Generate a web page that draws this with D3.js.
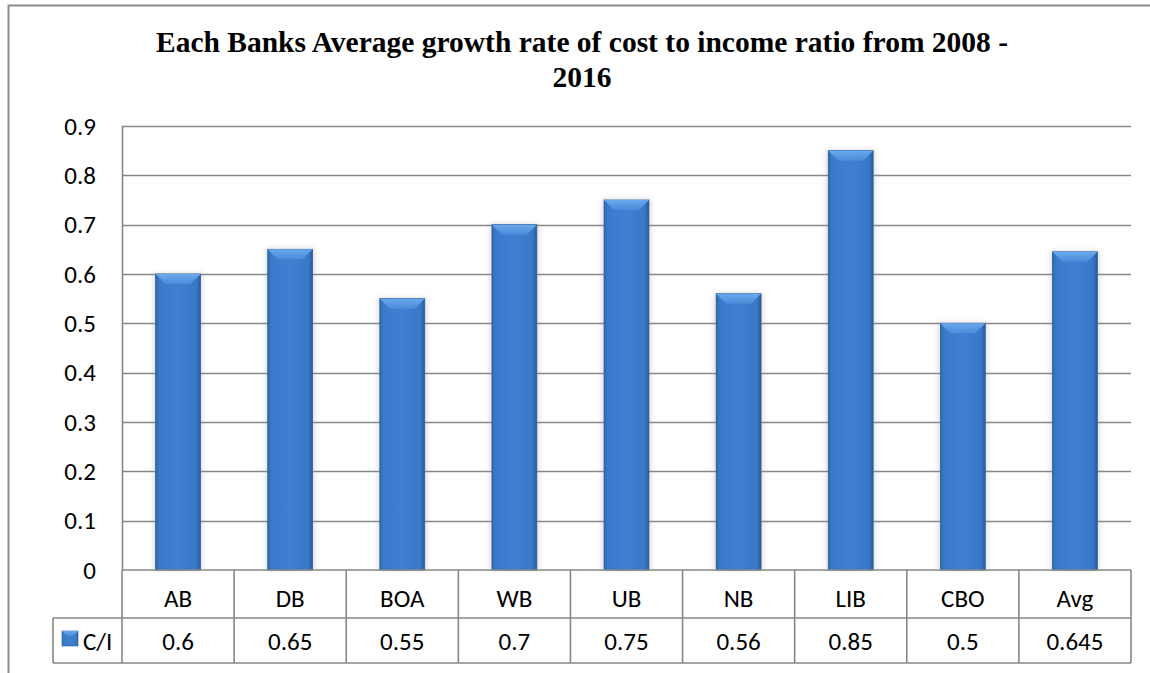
<!DOCTYPE html>
<html>
<head>
<meta charset="utf-8">
<script src="https://cdn.jsdelivr.net/npm/d3@7"></script>
<style>
  html, body { margin: 0; padding: 0; background: #fff; }
  svg { display: block; }
</style>
</head>
<body>
<svg id="chart" width="1150" height="673"></svg>
<script>
// Bank codes along the category axis
const banks = ["AB", "DB", "BOA", "WB", "UB", "NB", "LIB", "CBO", "Avg"];
// Average cost-to-income ratio per bank
const costIncome = [0.6, 0.65, 0.55, 0.7, 0.75, 0.56, 0.85, 0.5, 0.645];
// Printed form of each value in the data table
const costIncomeLabels = ["0.6", "0.65", "0.55", "0.7", "0.75", "0.56", "0.85", "0.5", "0.645"];
const seriesName = "C/I";
const yTicks = [0, 0.1, 0.2, 0.3, 0.4, 0.5, 0.6, 0.7, 0.8, 0.9];
const titleLines = ["Each Banks Average growth rate of cost to income ratio from 2008 -", "2016"];

const svg = d3.select("#chart");
const W = 1150, H = 673;
const plot = { left: 122, right: 1131, top: 126, bottom: 570 };
const rowH1 = 48, rowH2 = 45, legendLeft = 53;
const gridColor = "#878787";
const labelFont = "Carlito, Calibri, 'Open Sans', sans-serif";
const labelSize = 25;

const defs = svg.append("defs");
// horizontal shading of the bar body
const body = defs.append("linearGradient").attr("id", "barBody").attr("x1", "0").attr("x2", "1").attr("y1", "0").attr("y2", "0");
[[0, "#2f66ab"], [0.08, "#3b7acb"], [0.5, "#3f80d1"], [0.9, "#3a78c8"], [1, "#2a5c9c"]].forEach(([o, c]) =>
  body.append("stop").attr("offset", o).attr("stop-color", c));
// lighter bevel on the top face
const bevel = defs.append("linearGradient").attr("id", "barTop").attr("x1", "0").attr("x2", "0").attr("y1", "0").attr("y2", "1");
[[0, "#6aa9ee"], [1, "#4a8ad8"]].forEach(([o, c]) => bevel.append("stop").attr("offset", o).attr("stop-color", c));
const shadow = defs.append("filter").attr("id", "soft").attr("x", "-30%").attr("y", "-10%").attr("width", "160%").attr("height", "120%");
shadow.append("feGaussianBlur").attr("stdDeviation", 2.5);

// outer chart frame
svg.append("path")
  .attr("d", `M8.5,${H} V5.5 H${W}`)
  .attr("fill", "none").attr("stroke", "#8c8c8c").attr("stroke-width", 2);

// title
svg.append("text")
  .attr("y", 52)
  .attr("text-anchor", "middle")
  .attr("font-family", "'Liberation Serif', 'Times New Roman', serif")
  .attr("font-weight", "bold").attr("font-size", 29.5)
  .selectAll("tspan").data(titleLines).join("tspan")
  .attr("x", 582).attr("dy", (d, i) => i === 0 ? 0 : 35)
  .text(d => d);

const x = d3.scaleBand().domain(banks).range([plot.left, plot.right]).paddingInner(0.6).paddingOuter(0.3);
const xCol = d3.scaleBand().domain(banks).range([plot.left, plot.right]);
const y = d3.scaleLinear().domain([0, 0.9]).range([plot.bottom, plot.top]);

// gridlines
svg.append("g").selectAll("line").data(yTicks.filter(t => t > 0)).join("line")
  .attr("x1", plot.left).attr("x2", plot.right)
  .attr("y1", d => Math.round(y(d)) + 0.5).attr("y2", d => Math.round(y(d)) + 0.5)
  .attr("stroke", gridColor).attr("stroke-width", 1.6);

// value axis
const yAxis = d3.axisLeft(y).tickValues(yTicks).tickSize(0).tickPadding(26).tickFormat(d3.format("~g"));
const ya = svg.append("g").attr("transform", `translate(${plot.left},0)`).call(yAxis);
ya.select(".domain").remove();
ya.selectAll("text").attr("font-family", labelFont).attr("font-size", labelSize).attr("fill", "#000");
svg.append("line")
  .attr("x1", plot.left + 0.5).attr("x2", plot.left + 0.5)
  .attr("y1", plot.top).attr("y2", plot.bottom)
  .attr("stroke", gridColor).attr("stroke-width", 1.6);

// bars
const bars = svg.append("g").selectAll("g").data(banks).join("g");
bars.append("rect")
  .attr("x", d => x(d) - 2).attr("width", x.bandwidth() + 4)
  .attr("y", (d, i) => y(costIncome[i]) - 1).attr("height", (d, i) => plot.bottom - y(costIncome[i]) + 1)
  .attr("fill", "#9a9a9a").attr("opacity", 0.35).attr("filter", "url(#soft)");
bars.append("rect")
  .attr("x", d => x(d)).attr("width", x.bandwidth())
  .attr("y", (d, i) => y(costIncome[i])).attr("height", (d, i) => plot.bottom - y(costIncome[i]))
  .attr("fill", "url(#barBody)").attr("stroke", "#2b5d9c").attr("stroke-width", 0.8);
const bev = 10;
bars.append("polygon")
  .attr("points", (d, i) => {
    const x0 = x(d), x1 = x(d) + x.bandwidth(), t = y(costIncome[i]);
    return [[x0, t], [x1, t], [x1 - bev, t + bev], [x0 + bev, t + bev]].map(p => p.join(",")).join(" ");
  })
  .attr("fill", "url(#barTop)");

// data table
const table = svg.append("g").attr("fill", "none").attr("stroke", gridColor).attr("stroke-width", 1.6);
const r0 = plot.bottom, r1 = r0 + rowH1, r2 = r1 + rowH2;
table.append("line").attr("x1", plot.left).attr("x2", plot.right).attr("y1", r0).attr("y2", r0);
table.append("line").attr("x1", legendLeft).attr("x2", plot.right).attr("y1", r1).attr("y2", r1);
table.append("line").attr("x1", legendLeft).attr("x2", plot.right).attr("y1", r2).attr("y2", r2);
table.append("line").attr("x1", legendLeft).attr("x2", legendLeft).attr("y1", r1).attr("y2", r2);
table.selectAll(".v").data(banks.map(b => xCol(b)).concat([plot.right])).join("line")
  .attr("x1", d => d).attr("x2", d => d).attr("y1", r0).attr("y2", r2);

const txt = svg.append("g").attr("font-family", labelFont).attr("font-size", labelSize).attr("fill", "#000").attr("text-anchor", "middle");
txt.selectAll(".cat").data(banks).join("text")
  .attr("x", d => xCol(d) + xCol.bandwidth() / 2).attr("y", r0 + 37).text(d => d);
txt.selectAll(".val").data(banks).join("text")
  .attr("x", d => xCol(d) + xCol.bandwidth() / 2).attr("y", r1 + 32)
  .text((d, i) => costIncomeLabels[i]);

// legend key in the table header cell
svg.append("rect").attr("x", 62).attr("y", 631).attr("width", 16).attr("height", 15)
  .attr("fill", "url(#barBody)").attr("stroke", "#2b5d9c").attr("stroke-width", 0.6);
svg.append("polygon").attr("points", "62,631 78,631 73,636 67,636").attr("fill", "url(#barTop)");
svg.append("text").attr("x", 83).attr("y", r1 + 32)
  .attr("font-family", labelFont).attr("font-size", labelSize).text(seriesName);
</script>
</body>
</html>
